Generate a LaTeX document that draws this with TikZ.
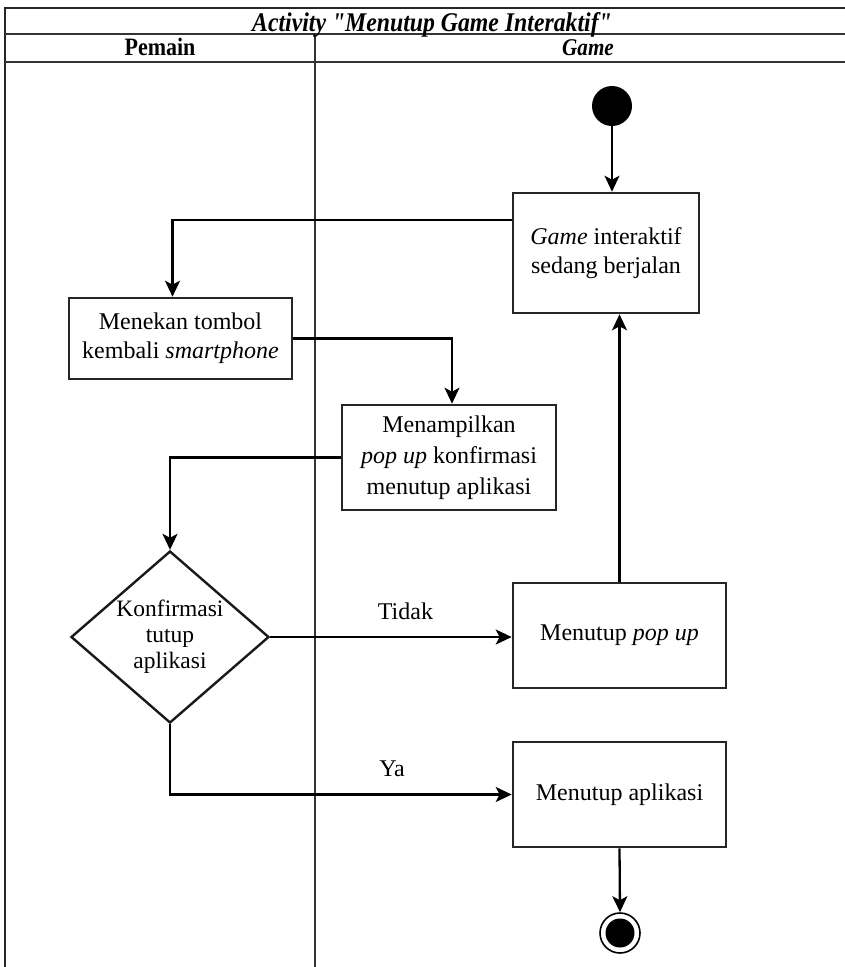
\documentclass[tikz,border=0pt]{standalone}
\usepackage{fontspec}
\setmainfont{Liberation Serif}[Ligatures=TeXOff]
\usetikzlibrary{arrows.meta,shapes.geometric}
\newcommand\actfont{\fontsize{24}{29}\selectfont}
\newcommand\decfont{\fontsize{23.5}{26}\selectfont}
\begin{document}
\begin{tikzpicture}[x=1pt,y=-1pt,
  frame/.style={line width=1.5pt, draw=black!80},
  act/.style={rectangle, draw=black!85, line width=2.6pt, align=center,
    inner sep=0pt, font=\actfont},
  decision/.style={diamond, draw=black!90, line width=2.4pt, align=center,
    inner sep=0pt, aspect=1.15, font=\decfont,
    minimum width=198pt, minimum height=172pt},
  flow/.style={draw=black, line width=2.3pt,
    -{Stealth[length=16pt,width=15pt,inset=4pt]}},
  guard/.style={anchor=base, inner sep=0pt, font=\actfont, yshift=18pt},
  head/.style={anchor=base, inner sep=0pt}
]
\useasboundingbox (0,0) rectangle (845,967);

% swimlane frame
\draw[line width=2.2pt, draw=black!85] (5,967) -- (5,8) -- (845,8);
\draw[frame] (5,34) -- (845,34);
\draw[frame] (5,62) -- (845,62);
\draw[frame] (315,34) -- (315,967);

\node[head] (title) at (432,31)
  {\scalebox{0.88}[1]{\fontsize{27}{30}\selectfont\bfseries\itshape Activity "Menutup Game Interaktif"}};
\node[head] (lanep) at (160,55)
  {\scalebox{0.88}[1]{\fontsize{25}{28}\selectfont\bfseries Pemain}};
\node[head] (laneg) at (588,55)
  {\scalebox{0.88}[1]{\fontsize{24}{28}\selectfont\bfseries\itshape Game}};

% activities
\node[circle, fill=black, minimum size=40pt, inner sep=0pt] (start) at (612,106) {};
\node[act, minimum width=186pt, minimum height=120pt] (run) at (606,253)
  {\textit{Game} interaktif\\sedang berjalan};
\node[act, minimum width=223pt, minimum height=81pt] (press) at (180.5,338.5)
  {Menekan tombol\\kembali \textit{smartphone}};
\node[act, minimum width=214pt, minimum height=105pt, font=\fontsize{24}{31}\selectfont] (popup) at (449,457.5)
  {Menampilkan\\\textit{pop up} konfirmasi\\menutup aplikasi};
\node[decision] (decide) at (170,637) {Konfirmasi\\tutup\\aplikasi};
\node[act, minimum width=213pt, minimum height=105pt] (closepop) at (619.5,635.5)
  {Menutup \textit{pop up}};
\node[act, minimum width=213pt, minimum height=105pt] (closeapp) at (619.5,794.5)
  {Menutup aplikasi};
\node[circle, draw=black, line width=1.6pt, minimum size=40pt, inner sep=0pt,
  path picture={\fill[black] (path picture bounding box.center) circle (14.5pt);}]
  (end) at (620,933) {};

% control flow
\draw[flow] (start) -- (start |- run.north);
\draw[flow] ([yshift=33pt]run.west) -| ([xshift=-8pt]press.north);
\draw[flow] (press.east) -| ([xshift=3pt]popup.north);
\draw[flow] (popup.west) -| (decide.north);
\draw[flow] (decide.east) -- node[guard, pos=0.56] {Tidak} (decide.east -| closepop.west);
\draw[flow] (closepop.north) -- (closepop.north |- run.south);
\draw[flow] (decide.south) |- node[guard, pos=0.825] {Ya} (closeapp.west);
\draw[flow] (closeapp.south) -- (end.north);
\end{tikzpicture}
\end{document}
